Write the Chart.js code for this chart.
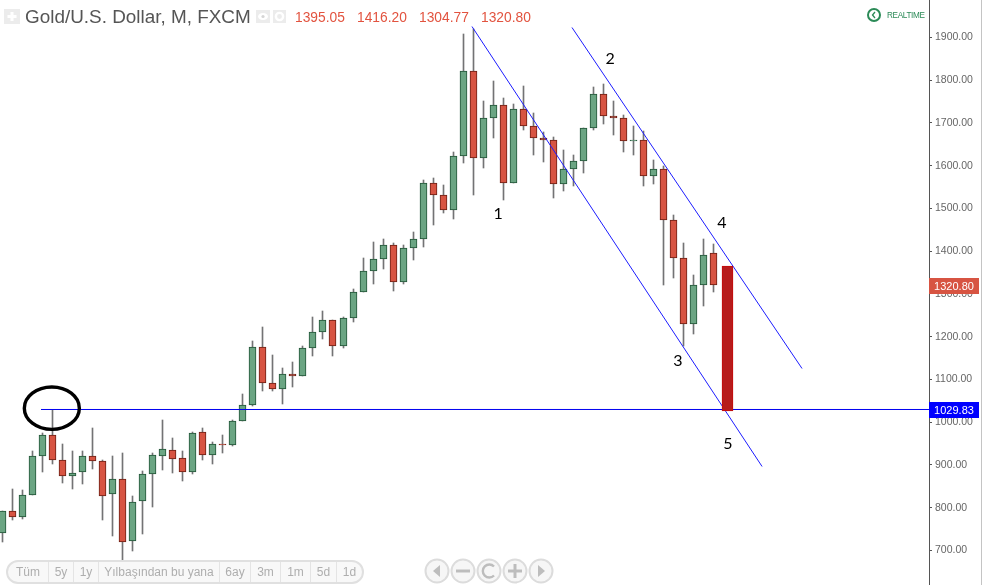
<!DOCTYPE html>
<html>
<head>
<meta charset="utf-8">
<title>Gold/U.S. Dollar, M, FXCM</title>
<script src="https://cdn.jsdelivr.net/npm/chart.js@4/dist/chart.umd.min.js"></script>
<style>
    html, body { margin: 0; padding: 0; background: #fff; overflow: hidden; }
    #wrap { position: relative; width: 983px; height: 585px; font-family: "Liberation Sans", Arial, sans-serif; }
    #wrap canvas { position: absolute; left: 0; top: 0; }
    .abs { position: absolute; white-space: nowrap; }
    #title { left: 25px; top: 6px; font-size: 18.9px; line-height: 22px; color: #555; }
    .ohlc { top: 10px; font-size: 13.8px; line-height: 16px; color: #e2533f; }
    #realtime { left: 887px; top: 10px; font-size: 8.2px; line-height: 11px; letter-spacing: -0.35px; color: #2b8a57; }
    #range { left: 6px; top: 560px; width: 354px; height: 20px; border: 2px solid #e0e0e0; border-radius: 12px; background: #f8f8f8; display: flex; overflow: hidden; }
    #range span { display: block; text-align: center; font-size: 12px; line-height: 20px; color: #aeaeae; border-right: 1px solid #e4e4e4; box-sizing: border-box; }
    #range span:last-child { border-right: none; }
    #frame { left: 981px; top: 0; width: 1px; height: 585px; background: #c4c4c4; }
</style>
</head>
<body>
<div id="wrap">
    <canvas id="goldChart" width="983" height="585"></canvas>
    <svg class="abs" style="left:0;top:0" width="300" height="30">
        <rect x="4" y="9" width="16" height="15" fill="#ececec"/>
        <path d="M12 12v9M7.5 16.5h9" stroke="#fff" stroke-width="3"/>
        <rect x="256" y="10" width="14" height="13" fill="#ececec"/>
        <ellipse cx="263" cy="16.5" rx="5" ry="3.5" fill="#fff"/>
        <circle cx="263" cy="16.5" r="1.6" fill="#d5d5d5"/>
        <rect x="273" y="10" width="13" height="13" fill="#ececec"/>
        <circle cx="279.5" cy="16.5" r="3.6" fill="none" stroke="#fff" stroke-width="2.4"/>
    </svg>
    <div id="title" class="abs">Gold/U.S. Dollar, M, FXCM</div>
    <div class="abs ohlc" style="left:295px">1395.05</div>
    <div class="abs ohlc" style="left:357px">1416.20</div>
    <div class="abs ohlc" style="left:419px">1304.77</div>
    <div class="abs ohlc" style="left:481px">1320.80</div>
    <svg class="abs" style="left:866px;top:7px" width="18" height="18">
        <circle cx="8" cy="8" r="6" fill="none" stroke="#2b8a57" stroke-width="2"/>
        <path d="M9 5L6.5 8L9 11" fill="none" stroke="#2b8a57" stroke-width="1.3"/>
    </svg>
    <div id="realtime" class="abs">REALTIME</div>
    <div id="frame" class="abs"></div>
    <div id="range" class="abs"></div>
    <svg class="abs" style="left:424px;top:558px" width="132" height="26">
        <g fill="#f6f6f6" stroke="#dcdcdc" stroke-width="2">
            <circle cx="13" cy="13" r="11.5"/>
            <circle cx="39" cy="13" r="11.5"/>
            <circle cx="65" cy="13" r="11.5"/>
            <circle cx="91" cy="13" r="11.5"/>
            <circle cx="117" cy="13" r="11.5"/>
        </g>
        <g fill="#bdbdbd">
            <path d="M9 13l7-6v12z"/>
            <rect x="32" y="11.5" width="14" height="3"/>
            <rect x="84" y="11.5" width="14" height="3"/>
            <rect x="89.5" y="6" width="3" height="14"/>
            <path d="M121 13l-7-6v12z"/>
        </g>
        <path d="M70 8.5a6.5 6.5 0 1 0 0 9" fill="none" stroke="#bdbdbd" stroke-width="2.4"/>
    </svg>
</div>

<script>
// Bougies mensuelles
const opens = [741.4, 792.8, 777.2, 830.3, 921.5, 970.6, 912.2, 873.8, 883.1, 921.5, 909.8, 832.6, 867.7, 722.7, 816.2, 879.4, 921.5, 935.5, 916.8, 884, 977.7, 923.9, 949.1, 946.8, 1003.4, 1039.9, 1176.5, 1092.3, 1078.2, 1113.3, 1108.6, 1174.1, 1211.6, 1239.6, 1178.8, 1244.3, 1305.1, 1354.3, 1382.3, 1415.1, 1328.5, 1408.1, 1429.1, 1560.1, 1532, 1497, 1623.3, 1822.1, 1618.6, 1712.2, 1742.6, 1560.1, 1733.2, 1693.4, 1665.4, 1660.7, 1557.8, 1592.9, 1611.6, 1688.8, 1768.3, 1716.8, 1712.2, 1657.9, 1660.7, 1576.5, 1592.9, 1473.5, 1384.7, 1230.3, 1321.5, 1395.05];
const highs = [793.5, 842.7, 840.4, 933.2, 974.4, 1029.1, 949.6, 931.6, 931.6, 985.4, 912.2, 922.2, 929.2, 827.9, 887.1, 926.9, 1004.1, 964.3, 931.6, 977.7, 987.7, 954.2, 969, 1006.4, 1066.5, 1190.5, 1223.3, 1157.8, 1127.4, 1141.4, 1178.8, 1246.7, 1260.7, 1239.6, 1246.7, 1312.2, 1384.7, 1422.1, 1429.1, 1419.8, 1415.1, 1445.5, 1567.1, 1571.8, 1556.1, 1631, 1908.7, 1921, 1750.3, 1799.4, 1759, 1745, 1787, 1723.9, 1679.4, 1667.7, 1637.3, 1625.6, 1688.8, 1784.7, 1791.7, 1751.9, 1719.2, 1693.4, 1681.7, 1613.9, 1599.9, 1485.3, 1419.8, 1344.9, 1429.1, 1416.2];
const lows = [719.4, 770.2, 774.8, 830.3, 883.1, 901.8, 859, 843.4, 855, 891.8, 770.2, 733.4, 678.9, 698.3, 738.1, 801.3, 887.8, 880.8, 862.1, 879.4, 911.2, 901.8, 926.9, 945.6, 1003.4, 1037.5, 1072.6, 1072.6, 1042.2, 1082, 1108.6, 1154.5, 1194.3, 1154.5, 1173.2, 1234, 1305.1, 1322.9, 1358, 1306.6, 1323.9, 1378.4, 1411.1, 1460.9, 1489, 1475, 1605.3, 1531.1, 1593.6, 1663.8, 1521, 1560.1, 1682.5, 1626.3, 1609.9, 1523.4, 1542.1, 1551.5, 1581.9, 1682.5, 1696.5, 1670.8, 1633.3, 1624, 1551.5, 1558.4, 1319.9, 1337, 1177.9, 1206, 1271.5, 1304.77];
const closes = [792.8, 777.9, 830.3, 921.5, 970.6, 912.2, 873.8, 881.7, 921.5, 909.8, 827, 867.7, 720.3, 813.9, 879.4, 923.9, 937.9, 914.5, 884, 975.3, 923.9, 949.6, 946.8, 1003.4, 1040.8, 1176.5, 1092.3, 1078.2, 1113.3, 1108.6, 1174.1, 1211.6, 1239.6, 1178.8, 1244.3, 1305.1, 1354.3, 1382.3, 1415.1, 1328.5, 1408.1, 1429.1, 1560.1, 1532, 1497, 1623.3, 1822.1, 1618.6, 1712.2, 1742.6, 1560.1, 1733.2, 1693.4, 1665.4, 1660.7, 1557.8, 1592.9, 1611.6, 1688.8, 1768.3, 1716.8, 1712.2, 1658.4, 1660.2, 1576.5, 1592.9, 1473.5, 1384.7, 1230.3, 1321.5, 1391.7, 1320.8];

// Lignes tracées à la main : [bougie, prix]
const lowerChannel = [[46.87, 1925.7], [75.82, 896.5]];
const upperChannel = [[56.85, 1923.4], [79.81, 1125.7]];
const supportLevel = 1029.83;
const supportFrom = 3.86;
const lastClose = 1320.8;
const targetBar = { x: 72.42, from: 1027, to: 1366.6 };
const circled = { x: 4.94, y: 1033 };

const waveNames = ["1", "2", "3", "4", "5"];
const waveX = [49.47, 60.65, 67.43, 71.82, 72.42];
const waveY = [1488.3, 1850.9, 1144.4, 1467.2, 950.3];

const rangeLabels = ["Tüm", "5y", "1y", "Yılbaşından bu yana", "6ay", "3m", "1m", "5d", "1d"];
const rangeWidths = [41, 25, 25, 121, 31, 30, 30, 26, 25];

document.getElementById("range").innerHTML = rangeLabels
    .map((t, i) => `<span style="width:${rangeWidths[i]}px">${t}</span>`)
    .join("");

const UP = "#6ba583", DOWN = "#d75442";
const UP_BORDER = "#225437", DOWN_BORDER = "#6b1f14";
const BLUE = "#0000f0";

function toPoints(line) {
    return line.map(p => ({ x: p[0], y: p[1] }));
}

// Arrondit les barres au pixel pour garder des bords nets
const snapBars = {
    id: "snapBars",
    afterDatasetsUpdate(chart) {
        chart.getSortedVisibleDatasetMetas().forEach(meta => {
            if (meta.type !== "bar") return;
            meta.data.forEach(el => {
                el.x = Math.floor(el.x) + 0.5;
                el.y = Math.round(el.y);
                el.base = Math.round(el.base);
            });
        });
    }
};

// Annotations : ellipse, numéros de vagues, étiquettes de prix
const annotations = {
    id: "annotations",
    afterDraw(chart) {
        const c = chart.ctx, xs = chart.scales.x, ys = chart.scales.y;
        c.save();
        c.strokeStyle = "#000";
        c.lineWidth = 3.4;
        c.beginPath();
        c.ellipse(xs.getPixelForValue(circled.x), ys.getPixelForValue(circled.y), 27.5, 21.2, 0, 0, Math.PI * 2);
        c.stroke();

        c.fillStyle = "#000";
        c.font = '16px Lato, "Open Sans", sans-serif';
        c.textAlign = "center";
        c.textBaseline = "middle";
        waveNames.forEach((n, i) => {
            c.fillText(n, xs.getPixelForValue(waveX[i]), ys.getPixelForValue(waveY[i]));
        });

        c.font = '11px "Liberation Sans", Arial, sans-serif';
        [[lastClose, DOWN], [supportLevel, "#0000ff"]].forEach(tag => {
            const y = Math.round(ys.getPixelForValue(tag[0])) + 1;
            c.fillStyle = tag[1];
            c.fillRect(929, y - 8, 50, 16);
            c.fillStyle = "#fff";
            c.fillText(tag[0].toFixed(2), 954, y + 0.5);
        });
        c.restore();
    }
};

const goldChart = new Chart(document.getElementById("goldChart"), {
    data: {
        datasets: [
            {
                type: "bar",
                order: 5,
                grouped: false,
                barThickness: 1,
                borderWidth: 0,
                backgroundColor: "#737375",
                data: highs.map((h, i) => ({ x: i, y: [lows[i], h] }))
            },
            {
                type: "bar",
                order: 4,
                grouped: false,
                barThickness: 7,
                borderWidth: 1,
                borderSkipped: false,
                backgroundColor: closes.map((c, i) => (c >= opens[i] ? UP : DOWN)),
                borderColor: closes.map((c, i) => (c >= opens[i] ? UP_BORDER : DOWN_BORDER)),
                data: opens.map((o, i) => ({ x: i, y: [o, closes[i]] }))
            },
            {
                type: "line",
                order: 3,
                borderColor: "#1c1cff",
                borderWidth: 1,
                pointRadius: 0,
                data: toPoints(lowerChannel)
            },
            {
                type: "line",
                order: 3,
                borderColor: "#1c1cff",
                borderWidth: 1,
                pointRadius: 0,
                data: toPoints(upperChannel)
            },
            {
                type: "line",
                order: 3,
                borderColor: BLUE,
                borderWidth: 1,
                pointRadius: 0,
                data: [{ x: supportFrom, y: supportLevel }, { x: 92.48, y: supportLevel }]
            },
            {
                type: "bar",
                order: 2,
                grouped: false,
                barThickness: 11,
                borderWidth: 1,
                borderSkipped: false,
                backgroundColor: "#b71c1c",
                borderColor: "#c60a0a",
                data: [{ x: targetBar.x, y: [targetBar.from, targetBar.to] }]
            }
        ]
    },
    options: {
        responsive: false,
        animation: false,
        events: [],
        layout: { padding: 0 },
        plugins: { legend: { display: false }, tooltip: { enabled: false } },
        scales: {
            x: { type: "linear", display: false, offset: false, min: -0.2325, max: 92.48 },
            y: {
                position: "right",
                min: 619.29,
                max: 1987.72,
                border: { color: "#555" },
                grid: { drawOnChartArea: false, tickLength: 3, tickColor: "#555" },
                ticks: {
                    stepSize: 100,
                    includeBounds: false,
                    autoSkip: false,
                    padding: 3,
                    color: "#666",
                    font: { family: '"Liberation Sans", Arial, sans-serif', size: 10.5 },
                    callback: v => v.toFixed(2)
                },
                afterFit(scale) {
                    scale.width = 54;
                    scale.paddingTop = 0;
                    scale.paddingBottom = 0;
                }
            }
        }
    },
    plugins: [snapBars, annotations]
});
</script>
</body>
</html>
